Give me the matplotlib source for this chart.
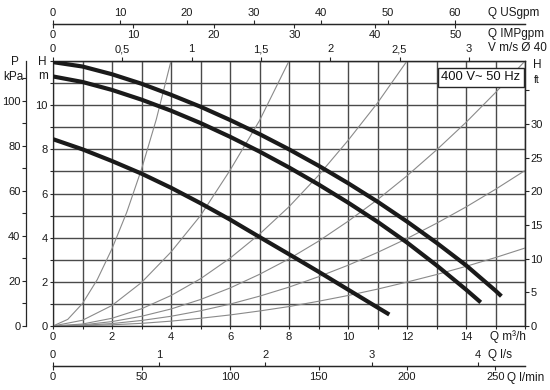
#!/usr/bin/env python3
"""Pump performance curves with the unit scales drawn around the frame."""

import matplotlib
matplotlib.use('Agg')
import matplotlib.pyplot as plt
from matplotlib.ticker import FixedLocator, MultipleLocator, FuncFormatter

plt.rcParams['font.family'] = ['Liberation Sans', 'DejaVu Sans']

W, H = 550, 390
INK = '#262626'
GRID = '#4a4a4a'
THIN = '#8a8a8a'

# pump curves: flow Q (m3/h) against head H (m)
q_curve1 = [0, 1, 2, 3, 4, 5, 6, 7, 8, 9, 10, 11, 12, 13, 14, 15, 15.2]
h_curve1 = [11.95, 11.75, 11.4, 10.97, 10.47, 9.93, 9.33, 8.69, 8.0, 7.26, 6.47, 5.63, 4.73, 3.77, 2.75, 1.6, 1.35]
q_curve2 = [0, 1, 2, 3, 4, 5, 6, 7, 8, 9, 10, 11, 12, 13, 14, 14.5]
h_curve2 = [11.3, 11.05, 10.69, 10.25, 9.75, 9.19, 8.57, 7.9, 7.18, 6.41, 5.59, 4.72, 3.78, 2.75, 1.65, 1.07]
q_curve3 = [0, 1, 2, 3, 4, 5, 6, 7, 8, 9, 10, 11, 11.4]
h_curve3 = [8.46, 8.0, 7.47, 6.9, 6.26, 5.56, 4.82, 4.03, 3.25, 2.46, 1.65, 0.84, 0.52]

# thin system curves from the origin
q_sys1 = [0, 0.5, 1, 1.5, 2, 2.5, 3, 3.5, 4.0]
h_sys1 = [0, 0.3, 1.02, 2.1, 3.5, 5.15, 7.1, 9.35, 12.0]
q_sys2 = [0, 1, 2, 3, 4, 5, 6, 7, 8]
h_sys2 = [0, 0.26, 0.93, 1.97, 3.35, 5.0, 7.05, 9.3, 12.0]
q_sys3 = [0, 1, 2, 3, 4, 5, 6, 7, 8, 9, 10, 11, 12]
h_sys3 = [0, 0.09, 0.35, 0.78, 1.38, 2.14, 3.07, 4.16, 5.4, 6.82, 8.4, 10.1, 12.0]
q_sys4 = [0, 1, 2, 3, 4, 5, 6, 7, 8, 9, 10, 11, 12, 13, 14, 15, 16]
h_sys4 = [0, 0.05, 0.2, 0.44, 0.77, 1.2, 1.72, 2.34, 3.04, 3.84, 4.74, 5.72, 6.8, 7.97, 9.22, 10.57, 12.0]
q_sys5 = [0, 1, 2, 3, 4, 5, 6, 7, 8, 9, 10, 11, 12, 13, 14, 15, 16]
h_sys5 = [0, 0.03, 0.11, 0.25, 0.44, 0.69, 0.99, 1.35, 1.76, 2.23, 2.75, 3.33, 3.96, 4.65, 5.39, 6.19, 7.04]
q_sys6 = [0, 1, 2, 3, 4, 5, 6, 7, 8, 9, 10, 11, 12, 13, 14, 15, 16]
h_sys6 = [0, 0.014, 0.055, 0.12, 0.22, 0.35, 0.5, 0.68, 0.88, 1.12, 1.38, 1.67, 1.99, 2.33, 2.7, 3.1, 3.53]

# conversions from m3/h (or m of head)
USGPM_PER_M3H = 4.403
IMPGPM_PER_M3H = 3.666
M3H_PER_MS = 4.7      # flow giving 1 m/s in the 40 mm pipe
LS_PER_M3H = 1 / 3.6
LMIN_PER_M3H = 1000 / 60
KPA_PER_M = 9.81
FT_PER_M = 1 / 0.3048

q_ticks = [0, 2, 4, 6, 8, 10, 12, 14]
h_ticks = [0, 2, 4, 6, 8, 10]
usgpm_ticks = [0, 10, 20, 30, 40, 50, 60]
impgpm_ticks = [0, 10, 20, 30, 40, 50]
velocity_ticks = [0, 0.5, 1, 1.5, 2, 2.5, 3]
ls_ticks = [0, 1, 2, 3, 4]
lmin_ticks = [0, 50, 100, 150, 200, 250]
kpa_ticks = [0, 20, 40, 60, 80, 100]
ft_ticks = [0, 5, 10, 15, 20, 25, 30, 35]

# frame in pixels
X0, X1, Y0, Y1 = 53, 525, 61, 326


def fx(px):
    return px / W


def fy(py):
    return 1 - py / H


def ax_y(py):
    return (Y1 - py) / (Y1 - Y0)


def ax_x(px):
    return (px - X0) / (X1 - X0)


def comma(v, pos=None):
    return f"{v:g}".replace('.', ',')


def style(a, axis, length=3, pad=1.5):
    a.tick_params(axis=axis, which='both', direction='out', length=length, width=0.8,
                  pad=pad, colors=INK, labelcolor='#1a1a1a', labelsize=8)
    for sp in a.spines.values():
        sp.set_linewidth(0.9)
        sp.set_color(INK)


fig = plt.figure(figsize=(W / 100, H / 100), dpi=100)
ax = fig.add_axes([fx(X0), fy(Y1), (X1 - X0) / W, (Y1 - Y0) / H])
ax.set_xlim(0, 16)
ax.set_ylim(0, 12)

ax.xaxis.set_major_locator(FixedLocator(q_ticks))
ax.xaxis.set_minor_locator(MultipleLocator(1))
ax.yaxis.set_major_locator(FixedLocator(h_ticks))
ax.yaxis.set_minor_locator(MultipleLocator(1))
ax.set_axisbelow(True)
ax.grid(which='both', color=GRID, linewidth=1.0)
style(ax, 'both', length=2.5, pad=1.5)
ax.tick_params(top=False, right=False)

for q, h in [(q_sys1, h_sys1), (q_sys2, h_sys2), (q_sys3, h_sys3),
             (q_sys4, h_sys4), (q_sys5, h_sys5), (q_sys6, h_sys6)]:
    ax.plot(q, h, color=THIN, linewidth=0.8, zorder=2)

for q, h in [(q_curve1, h_curve1), (q_curve2, h_curve2), (q_curve3, h_curve3)]:
    ax.plot(q, h, color='#1a1a1a', linewidth=3.0, solid_capstyle='butt',
            solid_joinstyle='round', zorder=4)

# flow scales above the frame
us = ax.secondary_xaxis(ax_y(24), functions=(lambda q: q * USGPM_PER_M3H, lambda g: g / USGPM_PER_M3H))
us.set_xticks(usgpm_ticks)
style(us, 'x', length=3, pad=1.5)

imp = ax.secondary_xaxis(ax_y(24), functions=(lambda q: q * IMPGPM_PER_M3H, lambda g: g / IMPGPM_PER_M3H))
imp.set_alignment('bottom')
imp.set_xticks(impgpm_ticks)
style(imp, 'x', length=3, pad=1)

vel = ax.secondary_xaxis('top', functions=(lambda q: q / M3H_PER_MS, lambda v: v * M3H_PER_MS))
vel.set_xticks(velocity_ticks)
vel.xaxis.set_major_formatter(FuncFormatter(comma))
style(vel, 'x', length=3, pad=2)

# flow scales below the frame
ls = ax.secondary_xaxis(ax_y(366), functions=(lambda q: q * LS_PER_M3H, lambda v: v / LS_PER_M3H))
ls.set_alignment('top')
ls.set_xticks(ls_ticks)
style(ls, 'x', length=3, pad=1.5)

lmin = ax.secondary_xaxis(ax_y(366), functions=(lambda q: q * LMIN_PER_M3H, lambda v: v / LMIN_PER_M3H))
lmin.set_xticks(lmin_ticks)
style(lmin, 'x', length=3, pad=1.5)

# pressure and feet scales
kpa = ax.secondary_yaxis(ax_x(26), functions=(lambda h: h * KPA_PER_M, lambda p: p / KPA_PER_M))
kpa.set_yticks(kpa_ticks)
kpa.yaxis.set_minor_locator(FixedLocator([10, 30, 50, 70, 90, 110]))
style(kpa, 'y', length=3, pad=1)

ft = ax.secondary_yaxis('right', functions=(lambda h: h * FT_PER_M, lambda f: f / FT_PER_M))
ft.set_yticks(ft_ticks)
ft.yaxis.set_major_formatter(FuncFormatter(lambda v, p: '' if v > 30 else f"{v:g}"))
style(ft, 'y', length=3, pad=1)

ax.text(ax_x(481), ax_y(77.5), '400 V~ 50 Hz', transform=ax.transAxes, ha='center', va='center',
        fontsize=9.4, color='#111111', zorder=6,
        bbox=dict(boxstyle='square,pad=0.3', fc='white', ec=INK, lw=1.0))

label_kw = dict(fontsize=8.5, color='#1a1a1a', va='center')
fig.text(fx(488), fy(13), 'Q USgpm', ha='left', **label_kw)
fig.text(fx(488), fy(34), 'Q IMPgpm', ha='left', **label_kw)
fig.text(fx(488), fy(48), 'V m/s Ø 40', ha='left', **label_kw)
fig.text(fx(490), fy(337), 'Q m³/h', ha='left', **label_kw)
fig.text(fx(488), fy(355), 'Q l/s', ha='left', **label_kw)
fig.text(fx(507), fy(378), 'Q l/min', ha='left', **label_kw)
fig.text(fx(15), fy(62), 'P', ha='center', **label_kw)
fig.text(fx(13), fy(77), 'kPa', ha='center', **label_kw)
fig.text(fx(42), fy(62), 'H', ha='center', **label_kw)
fig.text(fx(43), fy(76), 'm', ha='center', **label_kw)
fig.text(fx(537), fy(65), 'H', ha='center', **label_kw)
fig.text(fx(537), fy(80), 'ft', ha='center', fontsize=7.5, color='#1a1a1a', va='center')

fig.savefig('out.png', dpi=100, facecolor='white')
plt.close(fig)
